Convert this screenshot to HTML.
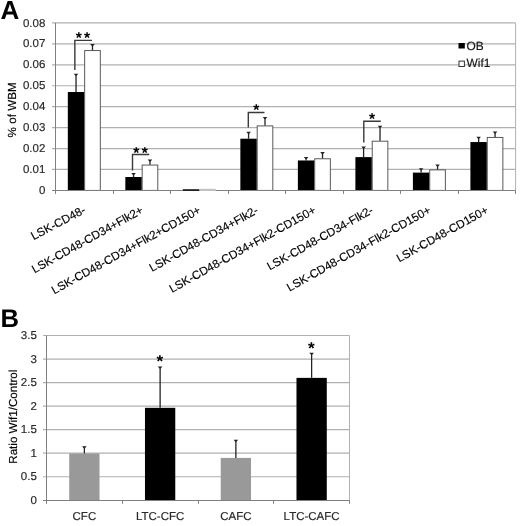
<!DOCTYPE html>
<html><head><meta charset="utf-8"><title>Figure</title>
<style>html,body{margin:0;padding:0;background:#fff;}svg{display:block;will-change:transform;filter:blur(0.4px);}text{font-family:"Liberation Sans",Arial,sans-serif;text-rendering:geometricPrecision;stroke-linejoin:round;}.t{stroke:#2a2a2a;stroke-width:0.18px}.h{stroke:#000;stroke-width:0.16px}</style></head><body>
<svg width="520" height="526" viewBox="0 0 520 526">
<rect width="520" height="526" fill="#fff"/>
<g id="chartA">
<line x1="52.00" x2="515.60" y1="169.47" y2="169.47" stroke="#b0b0b0" stroke-width="1.2"/>
<line x1="52.00" x2="515.60" y1="148.54" y2="148.54" stroke="#b0b0b0" stroke-width="1.2"/>
<line x1="52.00" x2="515.60" y1="127.61" y2="127.61" stroke="#b0b0b0" stroke-width="1.2"/>
<line x1="52.00" x2="515.60" y1="106.67" y2="106.67" stroke="#b0b0b0" stroke-width="1.2"/>
<line x1="52.00" x2="515.60" y1="85.74" y2="85.74" stroke="#b0b0b0" stroke-width="1.2"/>
<line x1="52.00" x2="515.60" y1="64.81" y2="64.81" stroke="#b0b0b0" stroke-width="1.2"/>
<line x1="52.00" x2="515.60" y1="43.88" y2="43.88" stroke="#b0b0b0" stroke-width="1.2"/>
<line x1="52.00" x2="515.60" y1="22.95" y2="22.95" stroke="#b0b0b0" stroke-width="1.2"/>
<line x1="515.60" x2="515.60" y1="22.95" y2="190.40" stroke="#b0b0b0" stroke-width="1"/>
<rect x="67.82" y="92.02" width="16.43" height="98.38" fill="#000"/>
<rect x="84.66" y="50.56" width="15.63" height="139.84" fill="#fff" stroke="#505050" stroke-width="0.95"/>
<path d="M76.04 92.02V74.44" stroke="#222" stroke-width="1.3" fill="none"/>
<path d="M73.74 73.84H78.34L76.64 75.84H75.44Z" fill="#222"/>
<path d="M92.47 50.16V44.51" stroke="#222" stroke-width="1.3" fill="none"/>
<path d="M90.17 43.91H94.77L93.07 45.91H91.87Z" fill="#222"/>
<rect x="125.34" y="177.00" width="16.43" height="13.40" fill="#000"/>
<rect x="142.17" y="165.05" width="15.63" height="25.35" fill="#fff" stroke="#505050" stroke-width="0.95"/>
<path d="M133.55 177.00V173.66" stroke="#222" stroke-width="1.3" fill="none"/>
<path d="M131.25 173.06H135.85L134.15 175.06H132.95Z" fill="#222"/>
<path d="M149.98 164.65V160.05" stroke="#222" stroke-width="1.3" fill="none"/>
<path d="M147.68 159.45H152.28L150.58 161.45H149.38Z" fill="#222"/>
<rect x="240.36" y="138.70" width="16.43" height="51.70" fill="#000"/>
<rect x="257.19" y="125.91" width="15.63" height="64.49" fill="#fff" stroke="#505050" stroke-width="0.95"/>
<path d="M248.58 138.70V132.42" stroke="#222" stroke-width="1.3" fill="none"/>
<path d="M246.28 131.82H250.88L249.18 133.82H247.98Z" fill="#222"/>
<path d="M265.01 125.51V117.56" stroke="#222" stroke-width="1.3" fill="none"/>
<path d="M262.71 116.96H267.31L265.61 118.96H264.41Z" fill="#222"/>
<rect x="297.87" y="160.47" width="16.43" height="29.93" fill="#000"/>
<rect x="314.71" y="158.78" width="15.63" height="31.62" fill="#fff" stroke="#505050" stroke-width="0.95"/>
<path d="M306.09 160.47V157.54" stroke="#222" stroke-width="1.3" fill="none"/>
<path d="M303.79 156.94H308.39L306.69 158.94H305.49Z" fill="#222"/>
<path d="M322.52 158.38V152.51" stroke="#222" stroke-width="1.3" fill="none"/>
<path d="M320.22 151.91H324.82L323.12 153.91H321.92Z" fill="#222"/>
<rect x="355.39" y="157.12" width="16.43" height="33.28" fill="#000"/>
<rect x="372.22" y="141.19" width="15.63" height="49.21" fill="#fff" stroke="#505050" stroke-width="0.95"/>
<path d="M363.60 157.12V147.07" stroke="#222" stroke-width="1.3" fill="none"/>
<path d="M361.30 146.47H365.90L364.20 148.47H363.00Z" fill="#222"/>
<path d="M380.03 140.79V126.35" stroke="#222" stroke-width="1.3" fill="none"/>
<path d="M377.73 125.75H382.33L380.63 127.75H379.43Z" fill="#222"/>
<rect x="412.90" y="172.61" width="16.43" height="17.79" fill="#000"/>
<rect x="429.73" y="169.87" width="15.63" height="20.53" fill="#fff" stroke="#505050" stroke-width="0.95"/>
<path d="M421.12 172.61V168.84" stroke="#222" stroke-width="1.3" fill="none"/>
<path d="M418.82 168.24H423.42L421.72 170.24H420.52Z" fill="#222"/>
<path d="M437.55 169.47V165.07" stroke="#222" stroke-width="1.3" fill="none"/>
<path d="M435.25 164.47H439.85L438.15 166.47H436.95Z" fill="#222"/>
<rect x="470.41" y="142.05" width="16.43" height="48.35" fill="#000"/>
<rect x="487.24" y="137.43" width="15.63" height="52.97" fill="#fff" stroke="#505050" stroke-width="0.95"/>
<path d="M478.63 142.05V137.44" stroke="#222" stroke-width="1.3" fill="none"/>
<path d="M476.33 136.84H480.93L479.23 138.84H478.03Z" fill="#222"/>
<path d="M495.06 137.03V132.00" stroke="#222" stroke-width="1.3" fill="none"/>
<path d="M492.76 131.40H497.36L495.66 133.40H494.46Z" fill="#222"/>
<line x1="55.50" x2="55.50" y1="22.95" y2="193.90" stroke="#808080" stroke-width="1"/>
<line x1="52.00" x2="515.60" y1="190.50" y2="190.50" stroke="#808080" stroke-width="1"/>
<line x1="113.50" x2="113.50" y1="190.40" y2="193.90" stroke="#808080" stroke-width="1"/>
<line x1="170.50" x2="170.50" y1="190.40" y2="193.90" stroke="#808080" stroke-width="1"/>
<line x1="228.50" x2="228.50" y1="190.40" y2="193.90" stroke="#808080" stroke-width="1"/>
<line x1="285.50" x2="285.50" y1="190.40" y2="193.90" stroke="#808080" stroke-width="1"/>
<line x1="343.50" x2="343.50" y1="190.40" y2="193.90" stroke="#808080" stroke-width="1"/>
<line x1="400.50" x2="400.50" y1="190.40" y2="193.90" stroke="#808080" stroke-width="1"/>
<line x1="458.50" x2="458.50" y1="190.40" y2="193.90" stroke="#808080" stroke-width="1"/>
<line x1="515.50" x2="515.50" y1="190.40" y2="193.90" stroke="#808080" stroke-width="1"/>
<rect x="182.85" y="189.2" width="16.43" height="1.7" fill="#1a1a1a"/>
<rect x="199.58" y="188.8" width="16.13" height="2.2" fill="#c2c2c2"/>
<text x="45.3" y="194.00" font-size="11.5" fill="#2a2a2a" class="t" text-anchor="end">0</text>
<text x="45.3" y="173.07" font-size="11.5" fill="#2a2a2a" class="t" text-anchor="end">0.01</text>
<text x="45.3" y="152.14" font-size="11.5" fill="#2a2a2a" class="t" text-anchor="end">0.02</text>
<text x="45.3" y="131.21" font-size="11.5" fill="#2a2a2a" class="t" text-anchor="end">0.03</text>
<text x="45.3" y="110.27" font-size="11.5" fill="#2a2a2a" class="t" text-anchor="end">0.04</text>
<text x="45.3" y="89.34" font-size="11.5" fill="#2a2a2a" class="t" text-anchor="end">0.05</text>
<text x="45.3" y="68.41" font-size="11.5" fill="#2a2a2a" class="t" text-anchor="end">0.06</text>
<text x="45.3" y="47.48" font-size="11.5" fill="#2a2a2a" class="t" text-anchor="end">0.07</text>
<text x="45.3" y="26.55" font-size="11.5" fill="#2a2a2a" class="t" text-anchor="end">0.08</text>
<text transform="translate(16.4,109.9) rotate(-90)" font-size="11.7" fill="#000" class="h" text-anchor="middle">% of WBM</text>
<text transform="translate(86.56,212.50) rotate(-27.6)" font-size="11.7" fill="#000" class="h" text-anchor="end">LSK-CD48-</text>
<text transform="translate(144.07,212.50) rotate(-29.1)" font-size="11.7" fill="#000" class="h" text-anchor="end">LSK-CD48-CD34+Flk2+</text>
<text transform="translate(201.58,212.50) rotate(-29.1)" font-size="11.7" fill="#000" class="h" text-anchor="end">LSK-CD48-CD34+Flk2+CD150+</text>
<text transform="translate(259.09,212.50) rotate(-29.1)" font-size="11.7" fill="#000" class="h" text-anchor="end">LSK-CD48-CD34+Flk2-</text>
<text transform="translate(316.61,212.50) rotate(-29.1)" font-size="11.7" fill="#000" class="h" text-anchor="end">LSK-CD48-CD34+Flk2-CD150+</text>
<text transform="translate(374.12,212.50) rotate(-29.1)" font-size="11.7" fill="#000" class="h" text-anchor="end">LSK-CD48-CD34-Flk2-</text>
<text transform="translate(431.63,212.50) rotate(-29.1)" font-size="11.7" fill="#000" class="h" text-anchor="end">LSK-CD48-CD34-Flk2-CD150+</text>
<text transform="translate(489.14,212.50) rotate(-29.1)" font-size="11.7" fill="#000" class="h" text-anchor="end">LSK-CD48-CD150+</text>
<path d="M74.85 70.00V40.40H91.90" stroke="#3a3a3a" stroke-width="1.4" fill="none"/>
<text x="75.66" y="42.94" font-size="15.6" font-weight="bold" fill="#000">*</text>
<text x="84.06" y="42.94" font-size="15.6" font-weight="bold" fill="#000">*</text>
<path d="M132.50 170.50V154.50H149.30" stroke="#3a3a3a" stroke-width="1.4" fill="none"/>
<text x="133.36" y="157.64" font-size="15.6" font-weight="bold" fill="#000">*</text>
<text x="141.76" y="157.64" font-size="15.6" font-weight="bold" fill="#000">*</text>
<path d="M248.30 127.50V112.50H264.50" stroke="#3a3a3a" stroke-width="1.4" fill="none"/>
<text x="253.21" y="115.14" font-size="15.6" font-weight="bold" fill="#000">*</text>
<path d="M363.80 142.50V121.30H380.80" stroke="#3a3a3a" stroke-width="1.4" fill="none"/>
<text x="369.06" y="124.44" font-size="15.6" font-weight="bold" fill="#000">*</text>
<rect x="458.5" y="43" width="6.3" height="5.5" fill="#000"/>
<rect x="459" y="61.1" width="5.4" height="5.4" fill="#fff" stroke="#333" stroke-width="1"/>
<text x="466.5" y="49.5" font-size="11.9" fill="#111" class="t">OB</text>
<text x="466.6" y="67" font-size="11.9" fill="#111" class="t">Wif1</text>
</g>
<text x="0.5" y="18.7" font-size="26" font-weight="bold" fill="#000">A</text>
<text x="0.5" y="326.7" font-size="25.6" font-weight="bold" fill="#000">B</text>
<g id="chartB">
<line x1="43.00" x2="349.50" y1="476.76" y2="476.76" stroke="#b0b0b0" stroke-width="1.2"/>
<line x1="43.00" x2="349.50" y1="453.21" y2="453.21" stroke="#b0b0b0" stroke-width="1.2"/>
<line x1="43.00" x2="349.50" y1="429.67" y2="429.67" stroke="#b0b0b0" stroke-width="1.2"/>
<line x1="43.00" x2="349.50" y1="406.13" y2="406.13" stroke="#b0b0b0" stroke-width="1.2"/>
<line x1="43.00" x2="349.50" y1="382.59" y2="382.59" stroke="#b0b0b0" stroke-width="1.2"/>
<line x1="43.00" x2="349.50" y1="359.04" y2="359.04" stroke="#b0b0b0" stroke-width="1.2"/>
<line x1="43.00" x2="349.50" y1="335.50" y2="335.50" stroke="#b0b0b0" stroke-width="1.2"/>
<line x1="349.50" x2="349.50" y1="335.50" y2="500.30" stroke="#b0b0b0" stroke-width="1"/>
<rect x="69.22" y="453.45" width="30.30" height="46.85" fill="#999"/>
<path d="M84.38 453.45V446.86" stroke="#222" stroke-width="1.3" fill="none"/>
<path d="M82.08 446.26H86.67L84.97 448.26H83.78Z" fill="#222"/>
<text x="84.38" y="520.3" font-size="11.5" fill="#2a2a2a" class="t" text-anchor="middle">CFC</text>
<rect x="144.97" y="407.82" width="30.30" height="92.48" fill="#000"/>
<path d="M160.12 407.82V367.05" stroke="#222" stroke-width="1.3" fill="none"/>
<path d="M157.82 366.45H162.43L160.72 368.45H159.53Z" fill="#222"/>
<text x="160.12" y="520.3" font-size="11.5" fill="#2a2a2a" class="t" text-anchor="middle">LTC-CFC</text>
<rect x="220.72" y="457.92" width="30.30" height="42.38" fill="#999"/>
<path d="M235.88 457.92V440.27" stroke="#222" stroke-width="1.3" fill="none"/>
<path d="M233.57 439.67H238.18L236.47 441.67H235.28Z" fill="#222"/>
<text x="235.88" y="520.3" font-size="11.5" fill="#2a2a2a" class="t" text-anchor="middle">CAFC</text>
<rect x="296.48" y="377.88" width="30.30" height="122.42" fill="#000"/>
<path d="M311.62 377.88V353.39" stroke="#222" stroke-width="1.3" fill="none"/>
<path d="M309.32 352.79H313.93L312.23 354.79H311.02Z" fill="#222"/>
<text x="311.62" y="520.3" font-size="11.5" fill="#2a2a2a" class="t" text-anchor="middle">LTC-CAFC</text>
<line x1="46.50" x2="46.50" y1="335.50" y2="503.80" stroke="#808080" stroke-width="1"/>
<line x1="43.00" x2="349.50" y1="500.50" y2="500.50" stroke="#808080" stroke-width="1"/>
<line x1="122.50" x2="122.50" y1="500.30" y2="503.80" stroke="#808080" stroke-width="1"/>
<line x1="198.50" x2="198.50" y1="500.30" y2="503.80" stroke="#808080" stroke-width="1"/>
<line x1="273.50" x2="273.50" y1="500.30" y2="503.80" stroke="#808080" stroke-width="1"/>
<line x1="349.50" x2="349.50" y1="500.30" y2="503.80" stroke="#808080" stroke-width="1"/>
<text x="36.8" y="503.80" font-size="11.5" fill="#2a2a2a" class="t" text-anchor="end">0</text>
<text x="36.8" y="480.26" font-size="11.5" fill="#2a2a2a" class="t" text-anchor="end">0.5</text>
<text x="36.8" y="456.71" font-size="11.5" fill="#2a2a2a" class="t" text-anchor="end">1</text>
<text x="36.8" y="433.17" font-size="11.5" fill="#2a2a2a" class="t" text-anchor="end">1.5</text>
<text x="36.8" y="409.63" font-size="11.5" fill="#2a2a2a" class="t" text-anchor="end">2</text>
<text x="36.8" y="386.09" font-size="11.5" fill="#2a2a2a" class="t" text-anchor="end">2.5</text>
<text x="36.8" y="362.54" font-size="11.5" fill="#2a2a2a" class="t" text-anchor="end">3</text>
<text x="36.8" y="339.00" font-size="11.5" fill="#2a2a2a" class="t" text-anchor="end">3.5</text>
<text transform="translate(17.2,416.7) rotate(-90)" font-size="11.6" fill="#000" class="h" text-anchor="middle">Ratio Wif1/Control</text>
<text x="156.45" y="366.74" font-size="17.2" font-weight="bold" fill="#000">*</text>
<text x="308.05" y="354.34" font-size="17.2" font-weight="bold" fill="#000">*</text>
</g>
</svg></body></html>
